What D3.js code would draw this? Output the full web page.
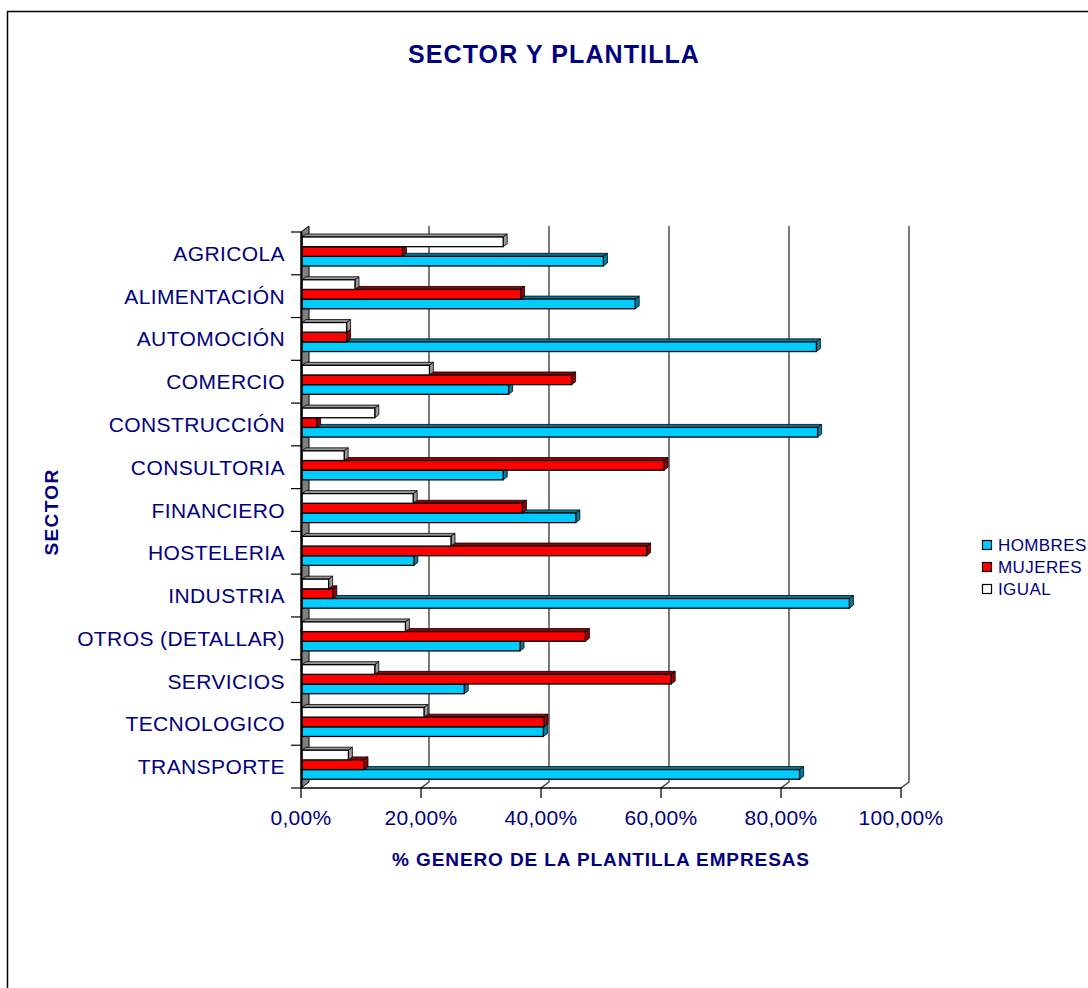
<!DOCTYPE html>
<html>
<head>
<meta charset="utf-8">
<script src="https://cdn.jsdelivr.net/npm/d3@7"></script>
<style>
  body { margin: 0; background: #fff; }
  svg { display: block; font-family: Arial, "Liberation Sans", sans-serif; }
  text { fill: #000080; }
</style>
</head>
<body>
<div id="chart"></div>
<script>
/*
 * Sector y plantilla, 3d horizontal bars
 */
var sectors = ['AGRICOLA', 'ALIMENTACIÓN', 'AUTOMOCIÓN', 'COMERCIO', 'CONSTRUCCIÓN', 'CONSULTORIA',
  'FINANCIERO', 'HOSTELERIA', 'INDUSTRIA', 'OTROS (DETALLAR)', 'SERVICIOS', 'TECNOLOGICO', 'TRANSPORTE'];
var series = ['HOMBRES', 'MUJERES', 'IGUAL'];
var hombres = [50.4, 55.7, 85.9, 34.6, 86.1, 33.7, 45.8, 18.8, 91.4, 36.5, 27.2, 40.4, 83.1];
var mujeres = [16.9, 36.6, 7.6, 45.1, 2.6, 60.5, 36.9, 57.6, 5.3, 47.4, 61.7, 40.5, 10.5];
var igual = [33.7, 9.0, 7.6, 21.4, 12.3, 7.2, 18.7, 25.0, 4.6, 17.4, 12.3, 20.5, 7.9];
var xTicks = [0, 20, 40, 60, 80, 100];

(function() {
  var width = 1088;
  var height = 988;
  var depthX = 8; // depth of the back wall
  var depthY = 6;
  var barDX = 4; // depth of a bar
  var barDY = 3;
  var colors = {
    HOMBRES: { front: '#00ccff', shade: '#0080a0' },
    MUJERES: { front: '#ff0000', shade: '#990000' },
    IGUAL: { front: '#ffffff', shade: '#999999' }
  };
  var values = { HOMBRES: hombres, MUJERES: mujeres, IGUAL: igual };

  var svg = d3.select('#chart').append('svg').attr('width', width).attr('height', height);

  // chart border, cut at the right and bottom like the original
  svg.append('rect')
    .attr('x', 7.5).attr('y', 11.5)
    .attr('width', 1200).attr('height', 1200)
    .attr('fill', 'none').attr('stroke', '#000').attr('stroke-width', 1.5);

  var x = d3.scaleLinear().domain([0, 100]).range([301, 901]);
  var y = d3.scaleBand().domain(sectors).range([232, 788]);
  var inner = d3.scaleBand().domain(['IGUAL', 'MUJERES', 'HOMBRES']).range([5, 34]);

  /*
   * Back gridlines + diagonals down to the front axis
   */
  var grid = svg.append('g').attr('class', 'grid');
  grid.selectAll('path')
    .data(xTicks.slice(1))
    .enter().append('path')
    .attr('d', function(d) {
      var bx = x(d) + depthX;
      var top = y.range()[0] - depthY;
      var bottom = y.range()[1] - depthY;
      return 'M' + bx + ',' + top + 'V' + bottom + 'L' + x(d) + ',' + y.range()[1];
    })
    .attr('fill', 'none')
    .attr('stroke', '#333')
    .attr('stroke-width', 1.3);

  /*
   * Left gray wall
   */
  var y0 = y.range()[0];
  var y1 = y.range()[1];
  svg.append('path')
    .attr('d', 'M' + x(0) + ',' + y1 + 'L' + (x(0) + depthX) + ',' + (y1 - depthY) +
      'L' + (x(0) + depthX) + ',' + (y0 - depthY) + 'L' + x(0) + ',' + y0 + 'Z')
    .attr('fill', '#808080')
    .attr('stroke', '#000')
    .attr('stroke-width', 1);

  /*
   * Bars, bottom series first so upper fronts cover lower top faces
   */
  var bars = svg.append('g').attr('class', 'bars');
  sectors.forEach(function(sector, i) {
    ['HOMBRES', 'MUJERES', 'IGUAL'].forEach(function(name) {
      var v = values[name][i];
      var bx0 = x(0) + 1;
      var bx1 = x(v);
      var by0 = y(sector) + inner(name);
      var by1 = by0 + inner.bandwidth();
      var g = bars.append('g').attr('class', 'bar');
      g.append('path')
        .attr('d', 'M' + bx0 + ',' + by0 + 'L' + (bx0 + barDX) + ',' + (by0 - barDY) +
          'L' + (bx1 + barDX) + ',' + (by0 - barDY) + 'L' + bx1 + ',' + by0 + 'Z')
        .attr('fill', colors[name].shade)
        .attr('stroke', '#000').attr('stroke-width', 0.8);
      g.append('path')
        .attr('d', 'M' + bx1 + ',' + by0 + 'L' + (bx1 + barDX) + ',' + (by0 - barDY) +
          'L' + (bx1 + barDX) + ',' + (by1 - barDY) + 'L' + bx1 + ',' + by1 + 'Z')
        .attr('fill', colors[name].shade)
        .attr('stroke', '#000').attr('stroke-width', 0.8);
      g.append('rect')
        .attr('x', bx0).attr('y', by0)
        .attr('width', bx1 - bx0).attr('height', by1 - by0)
        .attr('fill', colors[name].front)
        .attr('stroke', '#000').attr('stroke-width', 1.3);
    });
  });

  // front edge of the wall
  svg.append('line')
    .attr('x1', x(0) + 0.5).attr('x2', x(0) + 0.5)
    .attr('y1', y0).attr('y2', y1)
    .attr('stroke', '#000').attr('stroke-width', 2);

  /*
   * Category axis
   */
  var catTicks = sectors.map(function(s) { return y(s); }).concat([y1]);
  svg.append('g').selectAll('line')
    .data(catTicks)
    .enter().append('line')
    .attr('x1', x(0) - 10).attr('x2', x(0))
    .attr('y1', function(d) { return d; }).attr('y2', function(d) { return d; })
    .attr('stroke', '#000').attr('stroke-width', 1.2);

  svg.append('g').selectAll('text')
    .data(sectors)
    .enter().append('text')
    .attr('x', 285)
    .attr('y', function(d) { return y(d) + y.bandwidth() / 2 + 7.5; })
    .attr('text-anchor', 'end')
    .style('font-size', '21px')
    .style('letter-spacing', '0.4px')
    .text(function(d) { return d; });

  /*
   * Value axis (front)
   */
  svg.append('line')
    .attr('x1', x(0)).attr('x2', x(100))
    .attr('y1', y1).attr('y2', y1)
    .attr('stroke', '#000').attr('stroke-width', 1.3);

  svg.append('g').selectAll('line')
    .data(xTicks)
    .enter().append('line')
    .attr('x1', function(d) { return x(d); }).attr('x2', function(d) { return x(d); })
    .attr('y1', y1).attr('y2', y1 + 10)
    .attr('stroke', '#000').attr('stroke-width', 1.3);

  svg.append('g').selectAll('text')
    .data(xTicks)
    .enter().append('text')
    .attr('x', function(d) { return x(d); })
    .attr('y', 825)
    .attr('text-anchor', 'middle')
    .style('font-size', '21px')
    .style('letter-spacing', '0.3px')
    .text(function(d) { return d.toFixed(2).replace('.', ',') + '%'; });

  /*
   * Titles
   */
  svg.append('text')
    .attr('x', 554).attr('y', 63)
    .attr('text-anchor', 'middle')
    .style('font-size', '25px').style('font-weight', 'bold')
    .style('letter-spacing', '1.1px')
    .text('SECTOR Y PLANTILLA');

  svg.append('text')
    .attr('x', 601).attr('y', 866)
    .attr('text-anchor', 'middle')
    .style('font-size', '19px').style('font-weight', 'bold')
    .style('letter-spacing', '0.9px')
    .text('% GENERO DE LA PLANTILLA EMPRESAS');

  svg.append('text')
    .attr('transform', 'translate(58,512) rotate(-90)')
    .attr('text-anchor', 'middle')
    .style('font-size', '19px').style('font-weight', 'bold')
    .style('letter-spacing', '1.4px')
    .text('SECTOR');

  /*
   * Legend
   */
  var legend = svg.append('g').attr('class', 'legend');
  var item = legend.selectAll('g')
    .data(series)
    .enter().append('g')
    .attr('transform', function(d, i) { return 'translate(982,' + (545 + i * 22) + ')'; });
  item.append('rect')
    .attr('x', 0.5).attr('y', -4.5)
    .attr('width', 9).attr('height', 9)
    .attr('fill', function(d) { return colors[d].front; })
    .attr('stroke', '#000').attr('stroke-width', 1.2);
  item.append('text')
    .attr('x', 16).attr('y', 6)
    .style('font-size', '17px')
    .style('letter-spacing', '0.4px')
    .text(function(d) { return d; });
})();
</script>
</body>
</html>
